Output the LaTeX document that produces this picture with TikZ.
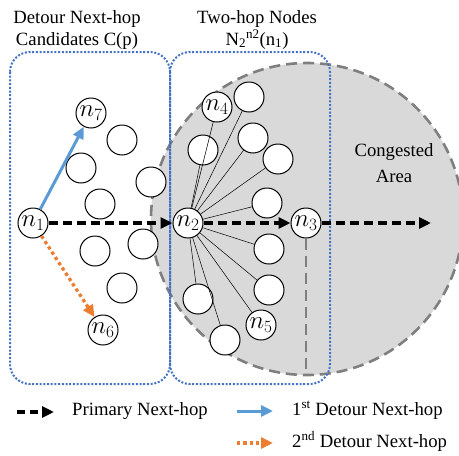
\documentclass[tikz,border=0pt]{standalone}
\usepackage{fontspec}
\setmainfont{Liberation Serif}
\usetikzlibrary{arrows.meta,backgrounds}
\definecolor{boxblue}{HTML}{4472C4}
\definecolor{arrblue}{HTML}{5B9BD5}
\definecolor{arrorange}{HTML}{ED7D31}
\definecolor{congfill}{HTML}{D9D9D9}
\definecolor{conggray}{HTML}{7F7F7F}
\begin{document}
\begin{tikzpicture}[x=1pt,y=-1pt,
  nd/.style={circle,draw=black,line width=1pt,fill=white,minimum size=30pt,inner sep=0pt,font=\fontsize{25}{25}\selectfont},
  hop/.style={line width=0.5pt,black},
  tip/.style={-{Triangle[length=12pt,width=11pt]}},
  primary/.style={tip,line width=3.2pt,dash pattern=on 9pt off 5pt},
  detourA/.style={tip,arrblue,line width=3pt},
  detourB/.style={tip,arrorange,line width=3.3pt,dash pattern=on 3.3pt off 3pt},
  region/.style={boxblue,line width=2pt,dash pattern=on 2pt off 1.7pt,rounded corners=20pt},
  cong/.style={conggray,line width=2.6pt,dash pattern=on 11pt off 6pt},
  lbl/.style={font=\fontsize{18.7}{22}\selectfont,inner sep=0pt}
]
\useasboundingbox (0,0) rectangle (459,456);

% nodes
\node[nd] (n1) at (33,223) {$n_1$};
\node[nd] (n7) at (91,113) {$n_7$};
\node[nd] (n6) at (103,330) {$n_6$};
\node[nd] (n2) at (188,223) {$n_2$};
\node[nd] (n3) at (306,223) {$n_3$};
\node[nd] (n4) at (217,107) {$n_4$};
\node[nd] (n5) at (261,325) {$n_5$};

\node[nd] (a1) at (122,140) {};
\node[nd] (a2) at (81,168) {};
\node[nd] (a3) at (151,182) {};
\node[nd] (a4) at (100,204) {};
\node[nd] (a5) at (143,244) {};
\node[nd] (a6) at (95,251) {};
\node[nd] (a7) at (122,288) {};

\node[nd] (b1) at (249,97) {};
\node[nd] (b2) at (203,150) {};
\node[nd] (b3) at (253,138) {};
\node[nd] (b4) at (278,159) {};
\node[nd] (b5) at (267,203) {};
\node[nd] (b6) at (269,249) {};
\node[nd] (b7) at (269,290) {};
\node[nd] (b8) at (198,299) {};
\node[nd] (b9) at (225,340) {};

% background: congested area and regions
\begin{scope}[on background layer]
  \coordinate (cc) at (307,219);
  \fill[congfill] (cc) circle[radius=156pt];
  \draw[cong] (cc) circle[radius=156pt];
  \coordinate (cb) at (306,375);
  \draw[cong] (n3) -- (cb);
  \draw[region] (10,52) rectangle (170,384);
  \draw[region] (170,52) rectangle (330,384);
\end{scope}

% two-hop links
\foreach \t in {n4,b1,b2,b3,b4,b5,b6,b7,b8,n5,b9}
  \draw[hop] (n2) -- (\t);

% arrows
\coordinate (e3) at (431,223);
\draw[primary] (n1) -- (n2);
\draw[primary] (n2) -- (n3);
\draw[primary] (n3) -- (e3);
\draw[detourA] (n1) -- (n7);
\draw[detourB] (n1) -- (n6);

% titles
\node[lbl,anchor=base] (t1) at (77,23) {Detour Next-hop};
\node[lbl,anchor=base] (t2) at (77,45) {Candidates C(p)};
\node[lbl,anchor=base] (t3) at (257,23) {Two-hop Nodes};
\node[lbl,anchor=base] (t4) at (257,45) {N\textsubscript{2}\textsuperscript{n2}(n\textsubscript{1})};
\node[lbl,anchor=base] (t5) at (394,156) {Congested};
\node[lbl,anchor=base] (t6) at (394,182) {Area};

% legend
\coordinate (l1s) at (17,412);
\coordinate (l1e) at (54,412);
\draw[primary,dash pattern=on 8pt off 5pt] (l1s) -- (l1e);
\node[lbl,anchor=base west] (lt1) at (72,415) {Primary Next-hop};
\coordinate (l2s) at (237,411);
\coordinate (l2e) at (273,411);
\draw[detourA] (l2s) -- (l2e);
\node[lbl,anchor=base west] (lt2) at (292,415) {1\textsuperscript{st} Detour Next-hop};
\coordinate (l3s) at (237,443);
\coordinate (l3e) at (273,443);
\draw[detourB] (l3s) -- (l3e);
\node[lbl,anchor=base west] (lt3) at (292,447) {2\textsuperscript{nd} Detour Next-hop};
\end{tikzpicture}
\end{document}
